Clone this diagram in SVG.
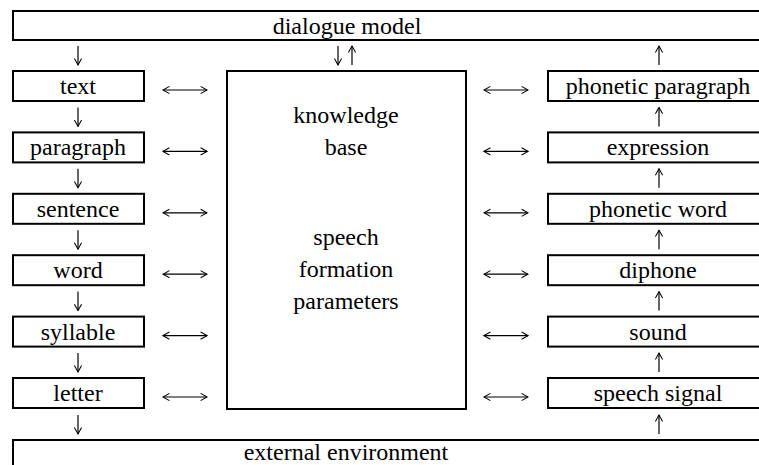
<svg xmlns="http://www.w3.org/2000/svg" width="759" height="465" viewBox="0 0 759 465" font-family="Liberation Serif, Tinos, Times New Roman, serif">
  <style>
    .box { fill: #fff; stroke: #000; stroke-width: 2; }
    .ln { fill: none; stroke: #000; stroke-width: 1.2; }
  </style>
  <defs>
    <!-- open V arrowhead shared by every connector -->
    <marker id="head" viewBox="0 0 10 10" refX="9" refY="5" markerWidth="8" markerHeight="10" markerUnits="userSpaceOnUse" orient="auto-start-reverse">
      <path d="M1,0.5 L9,5 L1,9.5" fill="none" stroke="#000" stroke-width="1.3"/>
    </marker>
  </defs>
  <rect width="759" height="465" fill="#fff"/>

  <!-- outer layers -->
  <g id="dialogue-model">
    <rect class="box" x="13" y="11" width="770" height="29"/>
    <text x="347" y="34" font-family="Liberation Serif" font-size="24" text-anchor="middle">dialogue model</text>
  </g>
  <g id="external-environment">
    <rect class="box" x="13" y="440" width="770" height="40"/>
    <text x="346" y="460" font-family="Liberation Serif" font-size="24" text-anchor="middle">external environment</text>
  </g>

  <!-- central store -->
  <g id="knowledge-base">
    <rect class="box" x="227" y="71" width="239" height="338"/>
    <text x="346" y="123" font-family="Liberation Serif" font-size="24" text-anchor="middle">knowledge</text>
    <text x="346" y="155" font-family="Liberation Serif" font-size="24" text-anchor="middle">base</text>
    <text x="346" y="245" font-family="Liberation Serif" font-size="24" text-anchor="middle">speech</text>
    <text x="346" y="277" font-family="Liberation Serif" font-size="24" text-anchor="middle">formation</text>
    <text x="346" y="309" font-family="Liberation Serif" font-size="24" text-anchor="middle">parameters</text>
  </g>

  <!-- text analysis levels -->
  <g id="level-text">
    <rect class="box" x="13" y="71" width="131" height="30"/>
    <text x="78" y="94" font-family="Liberation Serif" font-size="24" text-anchor="middle">text</text>
  </g>
  <g id="level-paragraph">
    <rect class="box" x="13" y="132.4" width="131" height="30"/>
    <text x="78" y="155.4" font-family="Liberation Serif" font-size="24" text-anchor="middle">paragraph</text>
  </g>
  <g id="level-sentence">
    <rect class="box" x="13" y="193.8" width="131" height="30"/>
    <text x="78" y="216.8" font-family="Liberation Serif" font-size="24" text-anchor="middle">sentence</text>
  </g>
  <g id="level-word">
    <rect class="box" x="13" y="255.2" width="131" height="30"/>
    <text x="78" y="278.2" font-family="Liberation Serif" font-size="24" text-anchor="middle">word</text>
  </g>
  <g id="level-syllable">
    <rect class="box" x="13" y="316.6" width="131" height="30"/>
    <text x="78" y="339.6" font-family="Liberation Serif" font-size="24" text-anchor="middle">syllable</text>
  </g>
  <g id="level-letter">
    <rect class="box" x="13" y="378" width="131" height="30"/>
    <text x="78" y="401" font-family="Liberation Serif" font-size="24" text-anchor="middle">letter</text>
  </g>

  <!-- speech synthesis levels -->
  <g id="level-phonetic-paragraph">
    <rect class="box" x="548" y="71" width="230" height="30"/>
    <text x="658" y="94" font-family="Liberation Serif" font-size="24" text-anchor="middle">phonetic paragraph</text>
  </g>
  <g id="level-expression">
    <rect class="box" x="548" y="132.4" width="230" height="30"/>
    <text x="658" y="155.4" font-family="Liberation Serif" font-size="24" text-anchor="middle">expression</text>
  </g>
  <g id="level-phonetic-word">
    <rect class="box" x="548" y="193.8" width="230" height="30"/>
    <text x="658" y="216.8" font-family="Liberation Serif" font-size="24" text-anchor="middle">phonetic word</text>
  </g>
  <g id="level-diphone">
    <rect class="box" x="548" y="255.2" width="230" height="30"/>
    <text x="658" y="278.2" font-family="Liberation Serif" font-size="24" text-anchor="middle">diphone</text>
  </g>
  <g id="level-sound">
    <rect class="box" x="548" y="316.6" width="230" height="30"/>
    <text x="658" y="339.6" font-family="Liberation Serif" font-size="24" text-anchor="middle">sound</text>
  </g>
  <g id="level-speech-signal">
    <rect class="box" x="548" y="378" width="230" height="30"/>
    <text x="658" y="401" font-family="Liberation Serif" font-size="24" text-anchor="middle">speech signal</text>
  </g>

  <!-- connectors -->
  <g id="connectors">
    <!-- downward chain on the left -->
    <path class="ln" marker-end="url(#head)" d="M78,46 V65"/>
    <path class="ln" marker-end="url(#head)" d="M78,107.4 V126.4"/>
    <path class="ln" marker-end="url(#head)" d="M78,168.8 V187.8"/>
    <path class="ln" marker-end="url(#head)" d="M78,230.2 V249.2"/>
    <path class="ln" marker-end="url(#head)" d="M78,291.6 V310.6"/>
    <path class="ln" marker-end="url(#head)" d="M78,353 V372"/>
    <path class="ln" marker-end="url(#head)" d="M78,415 V434"/>

    <!-- dialogue model to knowledge base -->
    <path class="ln" marker-end="url(#head)" d="M338,46 V65"/>
    <path class="ln" marker-end="url(#head)" d="M352,65 V46"/>

    <!-- upward chain on the right -->
    <path class="ln" marker-end="url(#head)" d="M659,65 V46"/>
    <path class="ln" marker-end="url(#head)" d="M659,126.4 V107.4"/>
    <path class="ln" marker-end="url(#head)" d="M659,187.8 V168.8"/>
    <path class="ln" marker-end="url(#head)" d="M659,249.2 V230.2"/>
    <path class="ln" marker-end="url(#head)" d="M659,310.6 V291.6"/>
    <path class="ln" marker-end="url(#head)" d="M659,372 V353"/>
    <path class="ln" marker-end="url(#head)" d="M659,434 V415"/>

    <!-- two-way links to the knowledge base -->
    <path class="ln" marker-start="url(#head)" marker-end="url(#head)" d="M163,90 H207"/>
    <path class="ln" marker-start="url(#head)" marker-end="url(#head)" d="M163,151.4 H207"/>
    <path class="ln" marker-start="url(#head)" marker-end="url(#head)" d="M163,212.8 H207"/>
    <path class="ln" marker-start="url(#head)" marker-end="url(#head)" d="M163,274.2 H207"/>
    <path class="ln" marker-start="url(#head)" marker-end="url(#head)" d="M163,335.6 H207"/>
    <path class="ln" marker-start="url(#head)" marker-end="url(#head)" d="M163,397 H207"/>

    <path class="ln" marker-start="url(#head)" marker-end="url(#head)" d="M484,90 H528"/>
    <path class="ln" marker-start="url(#head)" marker-end="url(#head)" d="M484,151.4 H528"/>
    <path class="ln" marker-start="url(#head)" marker-end="url(#head)" d="M484,212.8 H528"/>
    <path class="ln" marker-start="url(#head)" marker-end="url(#head)" d="M484,274.2 H528"/>
    <path class="ln" marker-start="url(#head)" marker-end="url(#head)" d="M484,335.6 H528"/>
    <path class="ln" marker-start="url(#head)" marker-end="url(#head)" d="M484,397 H528"/>
  </g>
</svg>
